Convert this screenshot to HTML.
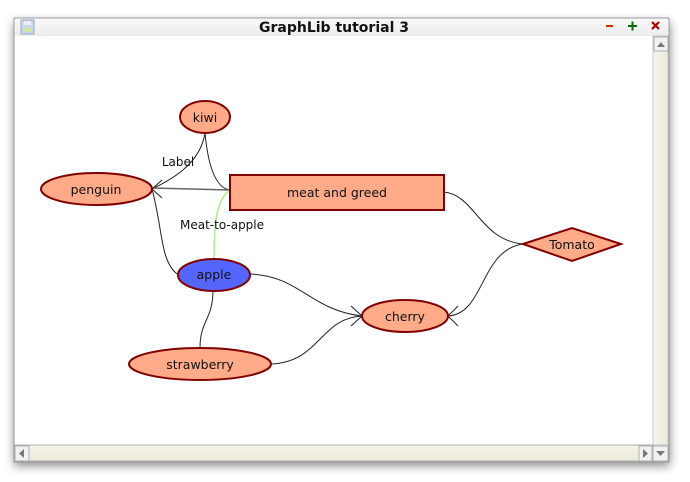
<!DOCTYPE html>
<html><head><meta charset="utf-8"><style>
html,body{margin:0;padding:0;background:#fff;width:690px;height:482px;overflow:hidden}
svg{display:block}
text{font-family:"DejaVu Sans","Liberation Sans",sans-serif}
</style></head><body>
<svg width="690" height="482" xmlns="http://www.w3.org/2000/svg">
<defs>
<filter id="sh" x="-10%" y="-10%" width="120%" height="125%"><feGaussianBlur stdDeviation="5"/></filter>
<linearGradient id="tb" x1="0" y1="0" x2="0" y2="1"><stop offset="0" stop-color="#f8f8f8"/><stop offset="1" stop-color="#ececec"/></linearGradient>
<linearGradient id="sb" x1="0" y1="0" x2="0" y2="1"><stop offset="0" stop-color="#f6f4ec"/><stop offset="1" stop-color="#ecead8"/></linearGradient>
<linearGradient id="sbv" x1="0" y1="0" x2="1" y2="0"><stop offset="0" stop-color="#f6f4ec"/><stop offset="1" stop-color="#ecead8"/></linearGradient>
</defs>
<rect x="14" y="22" width="656" height="444" fill="#000" opacity="0.45" filter="url(#sh)"/>
<rect x="14" y="18" width="655" height="444" fill="#fff" stroke="#9a9a9a"/>
<rect x="15" y="19" width="653" height="17" fill="url(#tb)"/>
<text x="334" y="32" font-size="14" font-weight="bold" text-anchor="middle" fill="#111" font-family="Liberation Sans">GraphLib tutorial 3</text>
<rect x="21" y="20" width="13" height="14" fill="#c8d8ec" stroke="#9ab" />
<rect x="24" y="28" width="7" height="4" fill="#cfe3a8"/>
<rect x="24" y="21" width="7" height="4" fill="#eef"/>
<rect x="606" y="25" width="7" height="2" fill="#d03000"/>
<rect x="628" y="25" width="9" height="2" fill="#0a6a0a"/><rect x="631.5" y="21.5" width="2" height="9" fill="#0a6a0a"/>
<path d="M652 22 L659 29 M659 22 L652 29" stroke="#b00000" stroke-width="2.2"/>
<!-- scrollbars -->
<rect x="653" y="36" width="15" height="409" fill="url(#sbv)" stroke="#c8c8c8"/>
<rect x="654" y="37" width="14" height="14" fill="#f2f2f2" stroke="#b0b0b0"/>
<path d="M657 47 L661 42 L665 47Z" fill="#777"/>
<rect x="15" y="445" width="638" height="16" fill="url(#sb)" stroke="#b0b0b0"/>
<rect x="15" y="446" width="14" height="15" fill="#f2f2f2" stroke="#b0b0b0"/>
<path d="M24 449 L19 453.5 L24 458Z" fill="#777"/>
<rect x="639" y="446" width="13" height="15" fill="#f2f2f2" stroke="#b0b0b0"/>
<path d="M643 449 L648 453.5 L643 458Z" fill="#777"/>
<rect x="653" y="446" width="15" height="15" fill="#f2f2f2" stroke="#b0b0b0"/>
<path d="M656 451 L660.5 456 L665 451Z" fill="#777"/>

<!-- edges -->
<g fill="none" stroke="#222" stroke-width="1">
<path d="M205 133 C200 165 170 180 152 189"/>
<path d="M205 133 C208 165 215 188 230 190"/>
<path d="M230 190 L152 188" stroke="#666" stroke-width="1.5"/>
<path d="M177 274 C160 260 163 230 152 189"/>
<path d="M250 274 C300 276 310 310 362 316"/>
<path d="M271 364 C320 362 320 318 362 316"/>
<path d="M213 290 C213 320 200 320 200 348"/>
<path d="M444 192 C475 195 480 240 523 244"/>
<path d="M523 244 C480 250 485 314 448 316"/>
<path d="M152 189 L162 180 M152 189 L162 198" />
<path d="M362 316 L351 306 M362 316 L351 326"/>
<path d="M448 316 L458 306 M448 316 L458 326"/>
</g>
<path d="M230 190 C215 200 214 230 214 258" fill="none" stroke="#a8f090" stroke-width="1.5"/>
<text x="178" y="166" font-size="12" text-anchor="middle" fill="#111">Label</text>
<text x="222" y="229" font-size="12" text-anchor="middle" fill="#111">Meat-to-apple</text>

<!-- nodes -->
<g stroke="#800000" stroke-width="2" fill="#ffaa88">
<ellipse cx="205" cy="117" rx="25" ry="16"/>
<ellipse cx="96.5" cy="189" rx="55.5" ry="16"/>
<rect x="230" y="175" width="214" height="35"/>
<ellipse cx="214" cy="275" rx="36" ry="16" fill="#5566ff"/>
<polygon points="523,244 572,228 621,244 572,261"/>
<ellipse cx="405" cy="316" rx="43" ry="16"/>
<ellipse cx="200" cy="364" rx="71" ry="16"/>
</g>
<g font-size="12.5" text-anchor="middle" fill="#111">
<text x="205" y="122">kiwi</text>
<text x="96" y="194">penguin</text>
<text x="337" y="197">meat and greed</text>
<text x="214" y="279">apple</text>
<text x="572" y="249">Tomato</text>
<text x="405" y="321">cherry</text>
<text x="200" y="369">strawberry</text>
</g>
</svg>
</body></html>
